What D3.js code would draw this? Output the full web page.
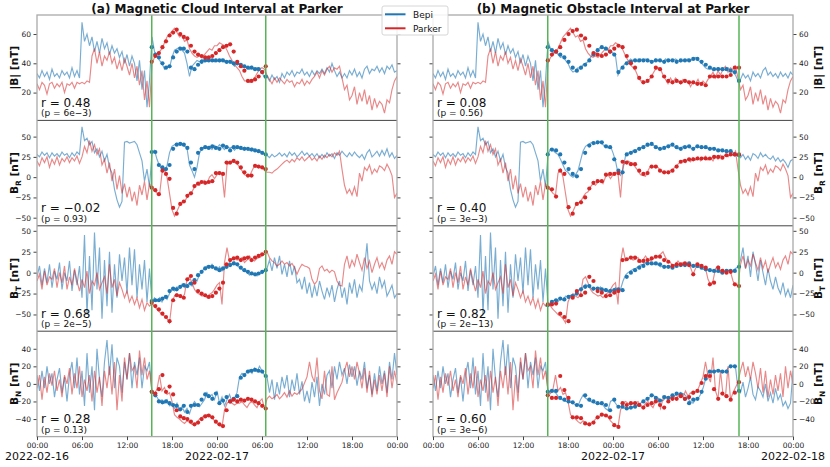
<!DOCTYPE html>
<html lang="en">
<head>
<meta charset="utf-8">
<title>Bepi / Parker magnetic field</title>
<script src="https://d3js.org/d3.v7.min.js"></script>
<style>
  body { margin: 0; background: #fff; }
  svg text { font-family: "DejaVu Sans", sans-serif; fill: #111; }
  .tick line { stroke: #444; }
  .tick text { font-size: 7.5px; fill: #222; font-family: "DejaVu Sans", sans-serif; }
</style>
</head>
<body>
<svg id="chart" width="830" height="467"></svg>
<script>
// ---- data: 20 min samples from 2022-02-16 00:00 to 2022-02-18 00:00 ----
var titles = ["(a) Magnetic Cloud Interval at Parker", "(b) Magnetic Obstacle Interval at Parker"];
var magTicks = [20, 40, 60];
var compTicks = [-50, -25, 0, 25, 50];
var bnTicks = [-40, -20, 0, 20, 40];
var corrA = ["0.48", "\u22120.02", "0.68", "0.28"];
var pvalA = ["6e\u22123", "0.93", "2e\u22125", "0.13"];
var corrB = ["0.08", "0.40", "0.82", "0.60"];
var pvalB = ["0.56", "3e\u22123", "2e\u221213", "3e\u22126"];

var parkerMag = [26,22,27, 25,19,26, 27,23,26, 24,27,20, 26,25,27, 23,27,26,
 27,26,28, 27,45,50, 40,48,38, 45,42,48, 40,44,36, 42,35,43,
 38,32,40, 30,38,25, 35,15,28, 10,40,44, 46,48,50, 54,58,60,
 62,64,61, 58,59,55, 56,50,47, 45,44,45, 44,46,48, 50,49,52,
 52,54,53, 52,49,45, 42,39,37, 35,31,28, 28,27,28, 30,33,36,
 37,36,32, 29,26,30, 27,30,28, 26,29,27, 28,24,27, 26,29,25,
 28,26,29, 31,34,30, 35,32,36, 38,34,37, 36,38,30, 22,25,15,
 18,24,12, 20,14,22, 12,18,8, 16,10,14, 12,6,15, 13,22,28,
 31];
var bepiMagA = [33,30,35, 31,34,29, 36,31,33, 30,35,32, 34,30,37, 31,35,30,
 68,55,60, 52,58,48, 55,47,57, 50,54,46, 52,47,50, 44,48,40,
 46,38,45, 40,28,42, 22,35,10, 28,58,48, 45,42,40, 36,38,37,
 44,49,50, 51,49,47, 40,31,38, 40,42,41, 43,41,42, 42,43,41,
 42,41,43, 41,40,42, 40,38,41, 39,37,38, 37,36,38, 36,37,35,
 34,30,31, 28,32,29, 31,27,33, 30,34,32, 35,31,34, 33,36,32,
 34,31,35, 32,35,33, 36,33,37, 34,40,35, 31,34,30, 33,30,35,
 32,36,31, 34,30,36, 38,33,36, 35,38,34, 37,33,38, 36,39,34,
 35];
var bepiMagB = bepiMagA.slice(0, 46).concat([55,50, 47,49,46, 44,45,42, 40,36,34, 35,37,36,
 39,40,41, 44,46,47, 49,51,50, 51,49,48, 47,45,32, 36,38,40, 41,43,42, 42,41,43,
 42,43,41, 42,41,43, 42,42,41, 43,41,42, 42,43,42, 41,42,42, 43,42,43, 44,42,41,
 39,37,36, 37,35,36, 37,36,35, 36,37,35, 34,32,28, 29,33,30, 32,28,34, 31,33,30,
 35,37,32, 34,31,33, 30,34,31, 33,30,34, 32]);

var parkerBr = [20,14,24, 18,25,12, 22,16,25, 15,23,19, 25,18,24, 20,26,17,
 25,38,30, 45,32,40, 28,35,15, 22,5,18, -5,10,-15, 2,-20,-8,
 -25,-12,-30, -18,-35,-10, -22,-5,-28, -8,-13,-16, -20,-22,5, 10,0,-20,
 -40,-48,-42, -35,-32,-30, -25,-20,-18, -12,-8,-10, -6,-4,-8, 0,3,-2,
 3,6,4, -25,15,18, 20,18,17, 12,8,3, 2,1,8, 14,12,13,
 12,8,6, 6,5,8, 10,13,16, 19,21,18, 22,19,24, 21,25,20,
 23,26,21, 24,20,26, 22,27,24, 28,25,30, 27,32,10, -10,-20,-15,
 -22,-12,-24, 5,-5,12, 8,15,4, 10,6,14, 12,8,16, 10,2,-25,
 -20];
var bepiBrA = [28,25,31, 27,30,24, 30,26,29, 25,31,27, 29,24,30, 26,31,28,
 62,45,48, 40,44,30, 35,25,32, 20,28,12, 5,-15,-28, -37,-30,43,
 44,42,43, 44,40,30, 20,-5,10, -12,30,33, 22,14,10, 8,14,30,
 38,40,42, 40,41,38, 36,15,8, 0,12,30, 35,37,36, 38,34,39,
 36,40,37, 34,38,36, 37,33,37, 36,34,37, 35,33,36, 34,32,33,
 30,28,27, 24,28,25, 27,30,26, 29,25,31, 27,30,25, 28,32,27,
 30,26,29, 25,29,24, 28,24,30, 26,29,23, 30,27,32, 28,25,30,
 26,31,27, 24,28,22, 30,34,25, 28,32,26, 33,27,35, 25,30,23,
 27];
var bepiBrB = bepiBrA.slice(0, 46).concat([28,35, 33,30,28, 22,15,8, 6,2,0, 3,8,20,
 32,38,40, 42,43,41, 43,44,40, 38,36,38, 30,20,5, 2,10,26, 30,29,33, 32,35,36,
 37,39,38, 41,40,37, 36,34,35, 37,38,40, 39,37,35, 36,38,37, 38,36,35, 37,38,36,
 37,36,35, 34,36,34, 33,34,32, 33,31,32, 30,28,26, 24,28,22, 26,21,29, 27,23,30,
 25,28,24, 22,26,20, 24,19,22, 18,12,20, 22]);

var parkerBt = [-10,-2,-20, 2,-15,-5, -8,5,-18, 0,-12,8, -20,-5,-15, 5,-10,-22,
 -8,-18,2, -25,-10,-15, 0,-20,-12, -5,-25,10, -18,-8,-28, -12,-20,-30,
 -22,-35,-28, -38,-30,-42, -32,-45,-36, -40,-37,-40, -44,-47,-50, -52,-55,-60,
 -35,-28,-25, -28,-30,-26, -8,-5,-12, -20,-24,-26, -28,-27,-30, -26,-24,-20,
 -15,-12,-38, 12,30,14, 17,18,15, 16,18,12, 15,20,16, 14,17,18,
 20,22,25, 18,14,12, 8,10,14, 10,12,8, 11,6,-2, 5,10,8,
 7,5,-8, -14,-10,5, 8,2,4, 0,3,1, -10,-15,-16, 10,20,5,
 15,8,22, 12,3,18, 5,14,0, 10,18,6, 12,4,15, 20,10,25,
 22];
var bepiBtA = [-5,8,-15, 5,-12,10, -18,2,-8, 12,-20,0, -10,14,-22, 3,-15,8,
 -30,45,-50, 20,-45,48, -20,30,-55, 15,-40,25, -48,10,-30, 22,-10,18,
 -25,30,-15, 28,-30,10, -20,15,-35, 5,-36,-30, -34,-30,-35, -28,-32,-25,
 -20,-22,-17, -19,-14,-18, -15,-12,-16, -8,-10,-2, 2,5,8, 6,10,5,
 3,7,2, 5,8,12, 10,13,9, 6,4,2, 0,-3,1, -2,-4,0,
 -1,3,5, 15,2,18, 5,20,-2, 10,-5,14, -3,8,-12, -8,-20,-5,
 -25,-12,-30, -15,-28,-10, -22,-32,-18, -28,-15,-35, -20,-10,-30, -18,-38,-12,
 -25,-8,-30, -15,-22,5, 35,-10,-20, -12,-25,-5, -18,-10,-28, -22,-15,-30,
 -25];
var bepiBtB = bepiBtA.slice(0, 46).concat([-39,-36, -34,-32,-35, -30,-33,-28, -29,-27,-30,
 -25,-22,-19, -17,-14,-16, -18,-21,-19, -20,-17,-22, -19,-23,-20, -21,-18,-22, -20,-10,-3,
 0,2,4, 5,7,9, 10,12,11, 12,10,11, 9,7,8, 6,8,7, 9,8,10, 11,9,12, 8,10,7, 8,6,7,
 4,5,3, 2,3,1, 2,0,1, 2,3,1, 2,5,7, 15,30,5, 20,-5,25, 10,-10,15, 0,-15,5,
 -10,-20,-5, -18,-25,-12, -28,-20,-30, -15]);

var parkerBn = [-5,10,-18, 8,-10,12, -2,15,-8, 5,-15,10, 0,18,-12, 12,-5,20,
 -15,5,-8, 10,-20,15, -10,8,-25, 15,-5,20, -12,25,-30, 10,-20,30,
 5,35,15, 20,-5,38, 10,30,5, 15,-9,-11, -6,10,-8, -4,-12,-10,
 -20,-35,-38, -40,-43,-45, -42,-44,-46, -45,-44,-40, -38,-36,-35, -36,-38,-42,
 -45,-47,-49, -30,-22,-20, -22,-24,-22, -22,-20,-24, -27,-22,-20, -24,-27,-20,
 -17,-28,-17, -14,-17,-15, -12,-17,-14, -10,-15,-8, -14,-10,-12, -9,-6,1,
 8,25,9, 2,30,-8, -17,15,-12, -14,20,-18, -10,-4,2, 15,25,8,
 20,5,25, 12,-5,18, -10,15,-15, 5,-12,10, -8,12,-15, 20,-5,15,
 0];
var bepiBnA = [10,-8,15, -5,20,0, 12,-15,5, 18,-10,8, -20,10,25, -5,30,-12,
 15,-25,35, -10,20,-30, 40,5,-15, 25,50,10, 45,-5,30, 20,-10,25,
 5,35,-5, 25,10,30, -5,20,15, 25,-10,-12, -15,-20,-18, -22,-18,-25,
 -24,-28,-22, -30,-26,-32, -28,-34,-25, -20,-24,-26, -22,-18,-10, -15,-12,-18,
 -8,-22,-15, -25,-18,-12, -20,-16,-10, 8,12,10, 14,16,12, 18,14,20,
 15,10,8, -10,5,-18, 2,-12,8, -5,10,-15, 5,-8,12, -12,3,-20,
 -8,-22,2, -15,8,-25, 0,-12,10, 15,-5,20, 5,25,10, 18,0,22,
 8,20,-2, 15,5,25, -5,10,-12, 12,-8,20, 0,15,-10, 25,5,35,
 10];
var bepiBnB = bepiBnA.slice(0, 46).concat([-9,-8, -8,-10,-14, -17,-18,-20, -20,-21,-22,
 -24,-25,-18, -13,-16,-18, -20,-21,-22, -22,-23,-24, -28,-30,-20, -18,-22,-26, -26,-27,-28,
 -28,-27,-26, -25,-24,-22, -20,-18,-17, -14,-13,-15, -16,-18,-19, -16,-15,-16, -15,-13,-12,
 -11,-11,-13, -17,-20,-22, -18,-17,-12, -5,5,12, 14,13,15, 14,15,13, 14,18,20,
 20,19,-6, -10,2,-15, -5,8,-12, -18,-3,-8, -15,0,-20, -10,-22,-5, -18,-12,-25, -20,-28,-22, 15]);

// ---- resampled points inside each interval ----
var bepiMagDotsA = [51,46,44,40,37,38,44,48,50,50,48,37,36,39,41,42,42,42,42,42,42,41,41,40,40,39,38,37,37,36,36,34,31];
var parkerMagDotsA = [41,45,47,51,55,59,61,63,60,58,57,52,48,46,45,44,44,45,47,49,51,52,53,48,41,38,35,28,28,29,31,34,38];
var bepiBrDotsA = [31,31,15,12,10,15,35,40,41,40,36,18,10,30,35,37,36,38,36,35,39,37,33,37,37,36,35,35,34,33,32,30,28];
var parkerBrDotsA = [-13,-16,-21,8,4,-2,-38,-45,-33,-30,-23,-20,-11,-8,-6,-7,-6,-5,5,5,4,18,18,20,18,12,6,2,2,14,13,12,10];
var bepiBtDotsA = [-34,-33,-33,-31,-29,-22,-19,-20,-17,-15,-16,-13,-9,-3,1,5,7,7,5,3,5,7,9,11,10,6,3,1,-1,-2,-1,1,3];
var parkerBtDotsA = [-36,-40,-44,-49,-53,-58,-33,-27,-28,-30,-8,-4,-12,-22,-25,-27,-29,-28,-24,-19,-12,10,15,17,18,15,17,18,15,18,20,22,25];
var bepiBnDotsA = [-9,-13,-20,-21,-20,-22,-24,-25,-29,-25,-32,-25,-24,-24,-18,-12,-14,-17,-11,-22,-19,-15,-20,-17,-14,7,10,14,15,16,15,14,9];
var parkerBnDotsA = [-9,-11,-6,10,-9,-3,-12,-30,-37,-39,-40,-43,-46,-44,-40,-37,-36,-38,-43,-46,-48,-30,-20,-18,-20,-18,-19,-17,-18,-20,-22,-25,-28];

var bepiMagDotsB = [51,49,48,46,44,41,37,35,37,39,42,46,49,51,50,48,46,34,37,40,41,42,42,42,42,41,42,42,41,42,42,41,42,42,42,43,43,41,39,37,36,36,36,36,35,34,28];
var parkerMagDotsB = [42,46,48,51,56,60,62,63,59,57,52,47,46,45,46,48,50,52,51,45,40,37,30,27,28,31,37,36,31,28,27,28,27,28,27,27,26,26,25,31,31,31,31,31,32,37,37];
var bepiBrDotsB = [28,34,33,28,18,10,4,1,10,30,39,42,43,43,38,37,22,8,6,28,30,32,35,37,40,41,37,35,36,38,40,37,35,37,38,35,38,37,37,35,35,33,33,32,32,28,27];
var parkerBrDotsB = [-13,-15,-24,8,4,-37,-45,-33,-31,-25,-14,-7,-5,-5,3,4,4,5,19,18,16,16,8,4,5,13,13,8,6,6,8,13,19,20,22,22,23,23,23,23,25,25,24,27,28,28,28];
var bepiBtDotsB = [-39,-35,-33,-31,-32,-29,-28,-25,-20,-17,-16,-19,-19,-20,-21,-22,-21,-20,-21,-5,0,3,6,8,11,11,11,10,7,7,6,8,9,9,11,8,8,6,4,3,2,2,0,2,2,2,7];
var parkerBtDotsB = [-38,-38,-37,-49,-53,-58,-30,-22,-27,-24,-5,-10,-22,-24,-28,-27,-24,-22,15,16,18,18,14,14,15,17,19,19,15,13,8,10,10,11,9,-2,10,8,6,-14,-12,6,2,0,1,-14,-16];
var bepiBnDotsB = [-9,-8,-8,-16,-18,-20,-21,-24,-25,-13,-18,-20,-22,-22,-24,-30,-18,-26,-26,-28,-27,-26,-24,-20,-17,-13,-16,-19,-15,-16,-13,-11,-12,-17,-22,-18,-17,-9,6,14,14,15,14,14,20,20,-8];
var parkerBnDotsB = [-13,-16,-16,9,-7,-16,-38,-38,-39,-45,-46,-44,-38,-35,-36,-38,-47,-49,-22,-24,-22,-22,-24,-27,-24,-22,-20,-24,-27,-20,-17,-17,-14,-17,-15,-10,-8,1,9,9,-6,-17,-11,-14,-18,-10,2];

// ---- setup ----
var svg = d3.select("#chart");
var hour = 3600e3;
var t0 = Date.UTC(2022, 1, 16);
var lineTimes = d3.range(parkerMag.length).map(function(i) { return new Date(t0 + i * hour / 3); });
var eventStart = new Date(Date.UTC(2022, 1, 16, 15, 18));
var cloudEnd = new Date(Date.UTC(2022, 1, 17, 6, 30));
var obstacleEnd = new Date(Date.UTC(2022, 1, 17, 16, 48));

function grid(start, end, n) {
  return d3.range(n).map(function(k) { return new Date(+start + k * (end - start) / (n - 1)); });
}

var rows = [
  { label: ["|B|", "", " [nT]"], domain: [1, 73], ticks: magTicks, parker: parkerMag,
    bepi: [bepiMagA, bepiMagB], dots: [[bepiMagDotsA, parkerMagDotsA], [bepiMagDotsB, parkerMagDotsB]] },
  { label: ["B", "R", " [nT]"], domain: [-60, 70], ticks: compTicks, parker: parkerBr,
    bepi: [bepiBrA, bepiBrB], dots: [[bepiBrDotsA, parkerBrDotsA], [bepiBrDotsB, parkerBrDotsB]] },
  { label: ["B", "T", " [nT]"], domain: [-70, 56], ticks: compTicks, parker: parkerBt,
    bepi: [bepiBtA, bepiBtB], dots: [[bepiBtDotsA, parkerBtDotsA], [bepiBtDotsB, parkerBtDotsB]] },
  { label: ["B", "N", " [nT]"], domain: [-60, 60], ticks: bnTicks, parker: parkerBn,
    bepi: [bepiBnA, bepiBnB], dots: [[bepiBnDotsA, parkerBnDotsA], [bepiBnDotsB, parkerBnDotsB]] }
];

var panels = [
  { x0: 37, x1: 397, title: titles[0], end: cloudEnd, corr: corrA, pval: pvalA,
    dates: [new Date(t0), new Date(t0 + 24 * hour)], side: "left" },
  { x0: 433, x1: 793, title: titles[1], end: obstacleEnd, corr: corrB, pval: pvalB,
    dates: [new Date(t0 + 24 * hour), new Date(t0 + 48 * hour)], side: "right" }
];

var top0 = 15, rowH = 105.4;
var blue = "#1f77b4", red = "#d62728", green = "#57b357";

panels.forEach(function(p, pi) {
  var x = d3.scaleUtc().domain([new Date(t0), new Date(t0 + 48 * hour)]).range([p.x0, p.x1]);
  var g = svg.append("g");

  var clipId = "clip" + pi;
  svg.append("clipPath").attr("id", clipId).append("rect")
    .attr("x", p.x0).attr("y", top0).attr("width", p.x1 - p.x0).attr("height", rowH * 4);

  rows.forEach(function(r, ri) {
    var yTop = top0 + ri * rowH, yBot = yTop + rowH;
    var y = d3.scaleLinear().domain(r.domain).range([yBot, yTop]);
    var line = d3.line().x(function(d, i) { return x(lineTimes[i]); }).y(function(d) { return y(d); });
    var plot = g.append("g").attr("clip-path", "url(#" + clipId + ")");

    plot.append("path").attr("d", line(r.bepi[pi]))
      .attr("fill", "none").attr("stroke", blue).attr("stroke-width", 1.15).attr("stroke-opacity", 0.6);
    plot.append("path").attr("d", line(r.parker))
      .attr("fill", "none").attr("stroke", red).attr("stroke-width", 1.15).attr("stroke-opacity", 0.55);

    var dotTimes = grid(eventStart, p.end, r.dots[pi][0].length);
    [[r.dots[pi][0], blue], [r.dots[pi][1], red]].forEach(function(s) {
      plot.selectAll(null).data(s[0]).enter().append("circle")
        .attr("cx", function(d, i) { return x(dotTimes[i]); })
        .attr("cy", function(d) { return y(d); })
        .attr("r", 2.1).attr("fill", s[1]);
    });

    // y axes
    var fmt = d3.format("");
    var left = d3.axisLeft(y).tickValues(r.ticks).tickSize(3.5).tickPadding(2.5)
      .tickFormat(p.side === "left" ? fmt : function() { return ""; });
    var right = d3.axisRight(y).tickValues(r.ticks).tickSize(3.5).tickPadding(2.5)
      .tickFormat(p.side === "right" ? fmt : function() { return ""; });
    g.append("g").attr("transform", "translate(" + p.x0 + ",0)").call(left)
      .call(function(a) { a.select(".domain").remove(); a.attr("font-size", null).attr("font-family", null); });
    g.append("g").attr("transform", "translate(" + p.x1 + ",0)").call(right)
      .call(function(a) { a.select(".domain").remove(); a.attr("font-size", null).attr("font-family", null); });

    // separator between stacked rows
    if (ri > 0) {
      g.append("line").attr("x1", p.x0).attr("x2", p.x1).attr("y1", yTop).attr("y2", yTop)
        .attr("stroke", "#444").attr("stroke-width", 1);
    }

    // correlation text
    g.append("text").attr("x", p.x0 + 4).attr("y", yBot - 13.5)
      .style("font-size", "12px").text("r = " + p.corr[ri]);
    g.append("text").attr("x", p.x0 + 4).attr("y", yBot - 4)
      .style("font-size", "9px").text("(p = " + p.pval[ri] + ")");

    // y label
    var lx = p.side === "left" ? 14 : 818;
    var lab = g.append("text").attr("transform", "translate(" + lx + "," + (yTop + rowH / 2) + ") rotate(-90)")
      .attr("text-anchor", "middle").attr("dy", "0.35em")
      .style("font-weight", "bold").style("font-size", "10.5px");
    lab.append("tspan").text(r.label[0]);
    if (r.label[1]) {
      lab.append("tspan").attr("dy", 3).style("font-size", "7.5px").text(r.label[1]);
      lab.append("tspan").attr("dy", -3).text(r.label[2]);
    } else {
      lab.append("tspan").text(r.label[2]);
    }
  });

  // interval markers
  [eventStart, p.end].forEach(function(t) {
    g.append("line").attr("x1", x(t)).attr("x2", x(t)).attr("y1", top0).attr("y2", top0 + 4 * rowH)
      .attr("stroke", green).attr("stroke-width", 1.5);
  });

  // frame
  g.append("rect").attr("x", p.x0).attr("y", top0).attr("width", p.x1 - p.x0).attr("height", 4 * rowH)
    .attr("fill", "none").attr("stroke", "#aaa").attr("stroke-width", 1.3);

  // x axis
  var bottom = top0 + 4 * rowH;
  g.append("g").attr("transform", "translate(0," + bottom + ")")
    .call(d3.axisBottom(x).ticks(d3.utcHour.every(6)).tickFormat(d3.utcFormat("%H:%M")).tickSize(3.5).tickPadding(2.5))
    .call(function(a) { a.select(".domain").remove(); a.attr("font-size", null).attr("font-family", null); });

  g.selectAll(null).data(p.dates).enter().append("text")
    .attr("x", function(d) { return x(d); }).attr("y", 460)
    .attr("text-anchor", "middle").style("font-size", "11px")
    .text(d3.utcFormat("%Y-%m-%d"));

  // title
  g.append("text").attr("x", (p.x0 + p.x1) / 2).attr("y", 12.5).attr("text-anchor", "middle")
    .style("font-weight", "bold").style("font-size", "12px").text(p.title);
});

// legend
var leg = svg.append("g").attr("transform", "translate(382,6)");
leg.append("rect").attr("width", 66).attr("height", 29).attr("rx", 2)
  .attr("fill", "#fff").attr("fill-opacity", 0.85).attr("stroke", "#ccc").attr("stroke-width", 0.8);
[["Bepi", blue], ["Parker", red]].forEach(function(e, i) {
  leg.append("line").attr("x1", 3).attr("x2", 23.5).attr("y1", 8.3 + i * 14).attr("y2", 8.3 + i * 14)
    .attr("stroke", e[1]).attr("stroke-width", 2);
  leg.append("text").attr("x", 31).attr("y", 11.5 + i * 14).style("font-size", "9px").text(e[0]);
});
</script>
</body>
</html>
